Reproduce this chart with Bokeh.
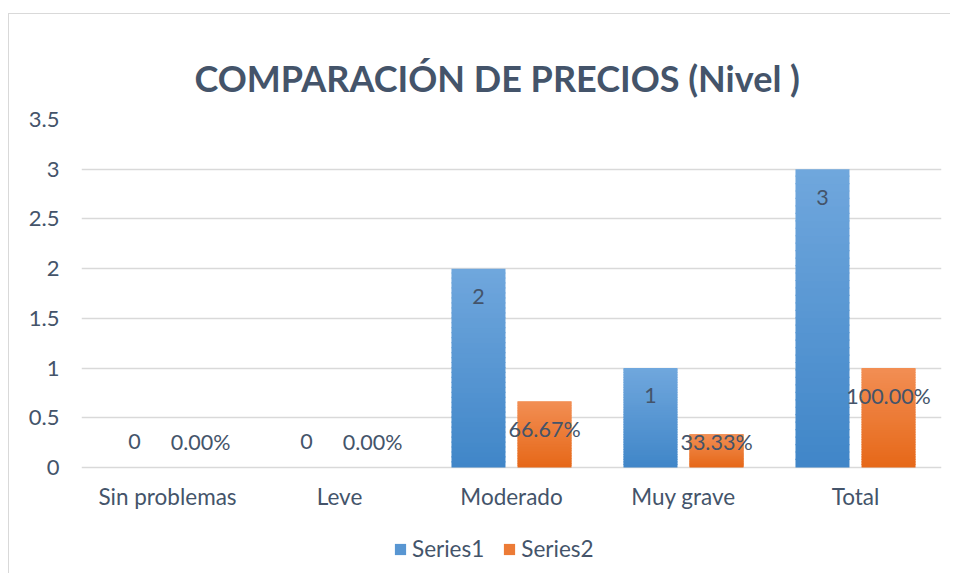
from bokeh.plotting import figure
from bokeh.models import (FixedTicker, NumeralTickFormatter, Legend, LegendItem,
                          ColumnDataSource, Range1d)
from bokeh.core.properties import value
from bokeh.embed import file_html
from bokeh.resources import INLINE

categories = ["Sin problemas", "Leve", "Moderado", "Muy grave", "Total"]
series1 = [0, 0, 2, 1, 3]
series2 = [0.0, 0.0, 0.6667, 0.3333, 1.0]
series1_labels = ["0", "0", "2", "1", "3"]
series2_labels = ["0.00%", "0.00%", "66.67%", "33.33%", "100.00%"]
series_names = ["Series1", "Series2"]
y_ticks = [0, 0.5, 1, 1.5, 2, 2.5, 3, 3.5]

FONT = "Lato"
TXT = "#44546A"
GRID = "#D9D9D9"
BLUE_TOP, BLUE_BOT = (0x70, 0xA7, 0xDD), (0x40, 0x86, 0xC8)
ORNG_TOP, ORNG_BOT = (0xF2, 0x8E, 0x54), (0xE6, 0x68, 0x18)

# frame extends below zero to host category labels and legend (no clipping)
Y_BOTTOM = -1.056
p = figure(width=942, height=560, output_backend="svg", toolbar_location=None,
           x_range=Range1d(0, 5), y_range=Range1d(Y_BOTTOM, 3.5),
           min_border_left=72, min_border_right=10, min_border_top=105,
           min_border_bottom=2)
p.styles = {"margin-top": "13px", "margin-left": "8px",
            "border-top": "1px solid #D9D9D9", "border-left": "1px solid #D9D9D9"}
p.outline_line_color = None
p.background_fill_color = "white"

p.title.text = "COMPARACIÓN DE PRECIOS (Nivel )"
p.title.text_font = FONT
p.title.text_font_size = "36px"
p.title.text_font_style = "bold"
p.title.text_color = TXT
p.title.align = "left"
p.title.offset = 113
p.title.standoff = 40

def mix(a, b, t):
    return "#%02x%02x%02x" % tuple(int(round(a[i] + (b[i] - a[i]) * t)) for i in range(3))

xs = [i + 0.5 for i in range(len(categories))]
off = 0.192
bw = 0.314
N = 40

def gradient_bars(vals, dx, top, bot):
    left, right, b, t, c = [], [], [], [], []
    for x, v in zip(xs, vals):
        if v <= 0:
            continue
        for k in range(N):
            f0 = k / N
            f1 = (k + 1) / N
            left.append(x + dx - bw / 2)
            right.append(x + dx + bw / 2)
            b.append(v * f0)
            t.append(min(v, v * f1 + 0.012))
            c.append(mix(bot, top, (f0 + f1) / 2))
    p.quad(left=left, right=right, bottom=b, top=t, fill_color=c, line_color=None)

gradient_bars(series1, -off, BLUE_TOP, BLUE_BOT)
gradient_bars(series2, off, ORNG_TOP, ORNG_BOT)

def label_pos(vals):
    return [max(v - 0.28, 0.26) for v in vals]

src1 = ColumnDataSource(dict(x=[x - off for x in xs], y=label_pos(series1), t=series1_labels))
src2 = ColumnDataSource(dict(x=[x + off for x in xs], y=label_pos(series2), t=series2_labels))
for s in (src1, src2):
    p.text(x="x", y="y", text="t", source=s, text_align="center", text_baseline="middle",
           text_font=value(FONT), text_font_size="21.5px", text_color=TXT)

# category labels (x axis)
cat_src = ColumnDataSource(dict(x=xs, y=[-0.295] * len(xs), t=categories))
p.text(x="x", y="y", text="t", source=cat_src, text_align="center", text_baseline="middle",
       text_font=value(FONT), text_font_size="22.5px", text_color=TXT)

# legend proxies
r1 = p.vbar(x=[0], top=[0], width=0.0, fill_color=mix(BLUE_TOP, BLUE_BOT, 0.5), line_color=None)
r2 = p.vbar(x=[0], top=[0], width=0.0, fill_color=mix(ORNG_TOP, ORNG_BOT, 0.5), line_color=None)
legend = Legend(items=[LegendItem(label=series_names[0], renderers=[r1]),
                       LegendItem(label=series_names[1], renderers=[r2])],
                orientation="horizontal", location=(312, 10))
legend.label_text_font = FONT
legend.label_text_font_size = "22.5px"
legend.label_text_color = TXT
legend.glyph_width = 14
legend.glyph_height = 14
legend.label_standoff = 5
legend.spacing = 18
legend.border_line_color = None
legend.background_fill_alpha = 0
legend.padding = 0
legend.margin = 0
p.add_layout(legend, "center")

p.xgrid.visible = False
p.xaxis.visible = False
p.ygrid.grid_line_color = GRID
p.ygrid.grid_line_width = 1.5
p.ygrid.ticker = FixedTicker(ticks=y_ticks)
p.yaxis.ticker = FixedTicker(ticks=y_ticks)
p.yaxis.formatter = NumeralTickFormatter(format="0.[0]")
p.yaxis.axis_line_color = None
p.yaxis.major_tick_line_color = None
p.yaxis.minor_tick_line_color = None
p.yaxis.major_tick_out = 0
p.yaxis.major_label_standoff = 22
p.yaxis.major_label_text_font = FONT
p.yaxis.major_label_text_font_size = "22px"
p.yaxis.major_label_text_color = TXT

open("out.html", "w").write(file_html(p, INLINE))
